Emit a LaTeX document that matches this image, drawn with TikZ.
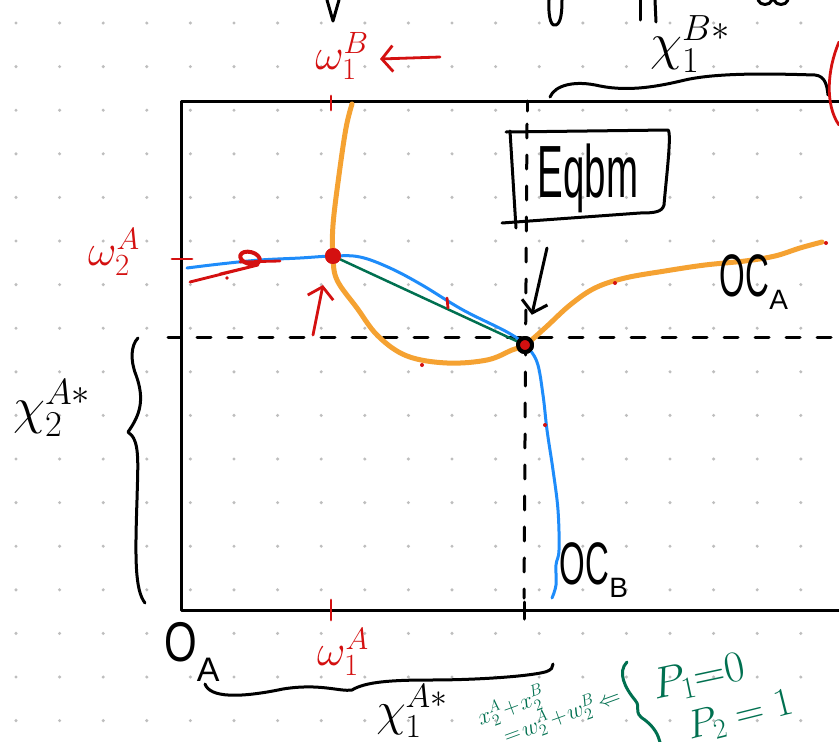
\RequirePackage{fix-cm}
\documentclass[tikz,border=0pt]{standalone}
\usepackage{fontspec}
\setmainfont{Liberation Sans}
\usetikzlibrary{arrows.meta}
\definecolor{hred}{RGB}{212,16,16}
\definecolor{horange}{RGB}{245,162,50}
\definecolor{hblue}{RGB}{30,140,250}
\definecolor{hgreen}{RGB}{0,112,80}
\definecolor{griddot}{RGB}{190,190,190}
\begin{document}
\begin{tikzpicture}[x=1pt,y=-1pt,line cap=round,line join=round,
  ink/.style={draw=black,line width=3pt},
  dashln/.style={draw=black,line width=3pt,dash pattern=on 14pt off 17pt},
  redmark/.style={draw=hred,line width=2.8pt},
  curveA/.style={draw=horange,line width=5pt},
  curveB/.style={draw=hblue,line width=3pt},
  contract/.style={draw=hgreen,line width=2.5pt},
  lbl/.style={inner sep=0pt,outer sep=0pt},
  redlbl/.style={lbl,text=hred,font=\fontsize{44}{44}\selectfont},
  blklbl/.style={lbl,text=black,font=\fontsize{52}{52}\selectfont},
  grnlbl/.style={lbl,text=hgreen},
  barb/.style={-{Straight Barb[length=11pt,width=26pt]}},
  dotpt/.style={circle,inner sep=0pt,minimum size=16pt}]
\useasboundingbox (0,0) rectangle (839,742);
\clip (0,0) rectangle (839,742);
\fill[white] (0,0) rectangle (839,742);
% dotted grid
\foreach \i in {0,...,18}
  \foreach \j in {0,...,16}
    \fill[griddot] (16+43.6*\i,23+43.6*\j) circle (1.7);
% fragments of writing cut off at the top
\draw[ink] (327,0) -- (333,21) -- (339,0);
\draw[ink] (549,0) .. controls (548,20) and (552,27) .. (556,25) .. controls (561,23) and (562,12) .. (562,0);
\draw[ink] (640,0) -- (640,20);
\draw[ink] (655,0) -- (656,22);
\draw[ink] (758,0) .. controls (760,6) and (770,6) .. (772,0);
\draw[ink] (774,0) .. controls (776,6) and (786,6) .. (788,0);
% Edgeworth box
\draw[ink] (839,101) -- (181,101) -- (181,610) -- (839,610);
% dashed guides
\draw[dashln] (197,337) -- (839,337);
\draw[ink] (168,337) -- (181,337);
\draw[ink] (527,101) -- (527,111);
\draw[dashln] (527,124) -- (524,598);
\draw[ink] (524,602) -- (524,619);
% red endowment ticks
\draw[redmark] (331,96) -- (331,110);
\draw[redmark] (331,600) -- (331,620);
\draw[redmark] (172,259) -- (192,259);
% braces
\draw[ink] (550,97) .. controls (555,85) and (575,80) .. (600,86) .. controls (630,92) and (660,86) .. (685,80) .. controls (720,72) and (780,74) .. (815,75) .. controls (825,76) and (827,85) .. (828,95);
\draw[ink] (205,684) .. controls (210,698) and (240,698) .. (283,689) .. controls (320,683) and (340,692) .. (352,690) .. controls (365,682) and (390,680) .. (430,680) .. controls (480,680) and (530,676) .. (545,672) .. controls (552,670) and (553,667) .. (553,664);
\draw[ink] (138,338) .. controls (131,345) and (130,360) .. (136,375) .. controls (145,400) and (140,415) .. (128,432) .. controls (140,440) and (138,460) .. (137,500) .. controls (135,560) and (135,590) .. (145,603);
\draw[redmark] (839,42) .. controls (827,70) and (825,105) .. (839,125);
% key points
\node[dotpt,fill=hred] (E0) at (333,256) {};
\node[dotpt,fill=hred,draw=black,line width=4pt,minimum size=14pt] (Eq) at (525,345) {};
% offer curves
\draw[curveA] plot[smooth,tension=0.6] coordinates {(352,104) (346,128) (339,175) (333,225) (E0.center) (337,280) (357,308) (378,336) (407,356) (447,363) (487,360) (512,350) (Eq.center) (545,328) (570,305) (595,288) (625,278) (665,271) (705,265) (745,261) (775,256) (800,248) (822,242)};
\draw[curveB] plot[smooth,tension=0.6] coordinates {(187,268) (220,264) (260,260) (300,258) (E0.center) (360,257) (390,268) (422,285) (463,310) (507,332) (Eq.center) (537,362) (543,395) (547,430) (553,470) (558,510) (559,550) (556,565) (556,585) (552,598)};
\draw[contract] (E0) -- (Eq);
\node[dotpt,fill=hred] at (E0) {};
\node[dotpt,fill=hred,draw=black,line width=4pt,minimum size=14pt] at (Eq) {};
% red marks and scribbles
\draw[redmark] (447,298) -- (448,308);
\fill[hred] (422,365) circle (2);
\fill[hred] (545,425) circle (2);
\fill[hred] (615,283) circle (2);
\fill[hred] (826,243) circle (2);
\fill[hred] (227,278) circle (1.8);
\draw[redmark] (190,282) -- (258,265) -- (220,274);
\draw[redmark] (240,262) -- (280,261);
\draw[hred,line width=4pt,rotate around={-15:(250,258)}] (250,258) ellipse (10 and 6);
\coordinate (upTail) at (313,335);
\coordinate (upHead) at (323,285);
\draw[redmark,barb] (upTail) -- (upHead);
% labels
\node[redlbl] (w1B) at (342,56) {$\omega_1^B$};
\coordinate (w1BTail) at (440,57);
\coordinate (w1BHead) at (380,59);
\draw[redmark,barb] (w1BTail) -- (w1BHead);
\node[redlbl] (w2A) at (114,252) {$\omega_2^A$};
\node[redlbl] (w1A) at (343,652) {$\omega_1^A$};
\node[lbl,font=\fontsize{56}{56}\selectfont] (OA) at (192,652) {\scalebox{0.75}[1]{O}\raisebox{-0.35em}{\fontsize{34}{34}\selectfont A}};
\node[blklbl] (x2A) at (52,408) {$\chi_2^{A*}$};
\node[blklbl,font=\fontsize{48}{48}\selectfont] (x1A) at (412,711) {$\chi_1^{A*}$};
\node[blklbl] (x1B) at (690,44) {$\chi_1^{B*}$};
\node[lbl,font=\fontsize{60}{60}\selectfont] (OCA) at (754,282) {\scalebox{0.55}[1]{OC}\raisebox{-0.22em}{\fontsize{28}{28}\selectfont A}};
\node[lbl,font=\fontsize{60}{60}\selectfont] (OCB) at (594,570) {\scalebox{0.55}[1]{OC}\raisebox{-0.22em}{\fontsize{28}{28}\selectfont B}};
% Eqbm box
\node[lbl,font=\fontsize{74}{74}\selectfont] (eqbm) at (588,178) {\scalebox{0.52}[1]{Eqbm}};
\draw[ink] (506,132) -- (668,130) .. controls (672,133) and (666,180) .. (664,205) .. controls (662,212) and (655,213) .. (640,213) -- (502,223);
\draw[ink] (510,131) -- (516,228);
\coordinate (eqArrow) at (547,248);
\draw[ink,barb,shorten >=22pt] (eqArrow) -- (Eq);
% market clearing note
\node[grnlbl,font=\fontsize{23}{19}\selectfont,rotate=20,align=left] (mc) at (549,707) {$x_2^A\!+\!x_2^B$\\\hspace*{18pt}$=\!w_2^A\!+\!w_2^B\!\Leftarrow$};
\draw[hgreen,line width=3pt] (627,662) .. controls (617,672) and (625,688) .. (635,700) .. controls (642,708) and (632,712) .. (645,720) .. controls (655,728) and (658,735) .. (660,742);
\node[grnlbl,font=\fontsize{44}{44}\selectfont,rotate=12] (p1) at (699,678) {$P_1{=}0$};
\node[grnlbl,font=\fontsize{40}{40}\selectfont,rotate=14] (p2) at (740,716) {$P_2 = 1$};
\end{tikzpicture}
\end{document}
